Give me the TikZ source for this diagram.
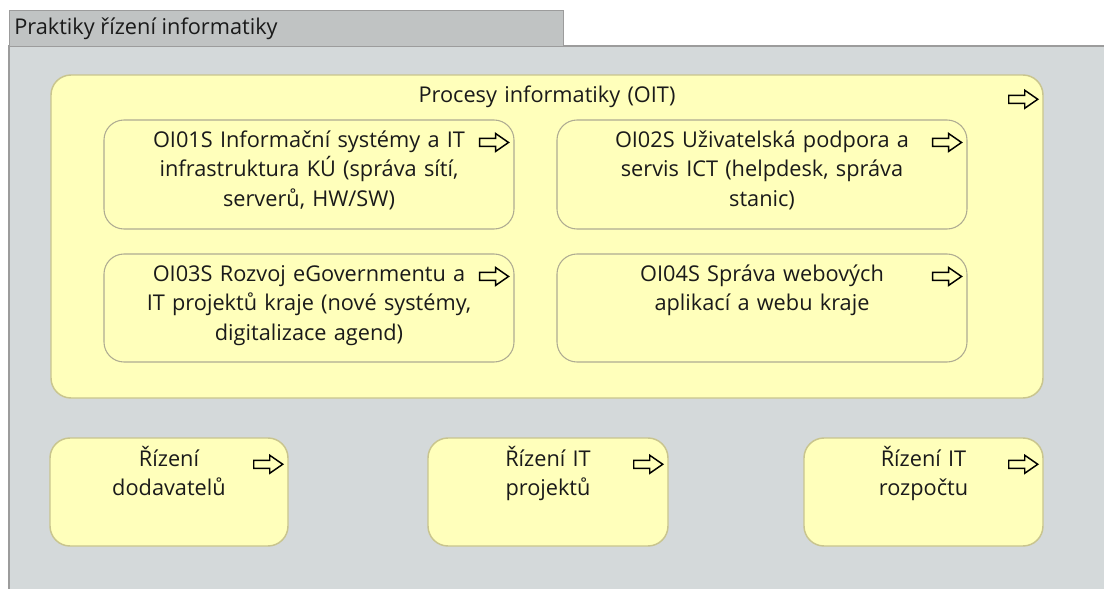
\documentclass[tikz,border=0pt]{standalone}
\usepackage{fontspec}
\setmainfont{Open Sans}
\definecolor{bodygray}{HTML}{D4D9DA}
\definecolor{tabgray}{HTML}{C0C3C3}
\definecolor{framegray}{HTML}{9C9C9C}
\definecolor{bizyellow}{HTML}{FFFFBB}
\definecolor{mainborder}{HTML}{C9C58E}
\definecolor{boxborder}{HTML}{AFAC92}
\definecolor{ink}{HTML}{1A1A1A}
\tikzset{
  grouparea/.style={draw=framegray, fill=bodygray, line width=0.8pt},
  tabbox/.style={draw=framegray, fill=tabgray, line width=0.8pt, inner sep=0pt, anchor=north west},
  tablbl/.style={font=\fontsize{16.3}{20}\selectfont, text=ink, inner sep=0pt, anchor=base west},
  procmain/.style={draw=mainborder, fill=bizyellow, rounded corners=15pt, line width=1.1pt, inner sep=0pt},
  procbox/.style={draw=boxborder, fill=bizyellow, rounded corners=15pt, line width=0.8pt, inner sep=0pt},
  proclbl/.style={align=center, text width=300pt, font=\fontsize{16.3}{22}\selectfont, text=ink, inner sep=0pt, anchor=base},
  procarrow/.pic={\draw[line width=1.1pt, fill=bizyellow, line join=miter] (0,0) -- (-13,-9) -- (-13,-4) -- (-29,-4) -- (-29,4) -- (-13,4) -- (-13,9) -- cycle;}
}
\begin{document}
\begin{tikzpicture}[x=0.75pt,y=-0.75pt]
\useasboundingbox (0,0) rectangle (1104,589);
\clip (0,0) rectangle (1104,589);
\fill[white] (0,0) rectangle (1104,589);
% group frame
\draw[grouparea] (9,46) rectangle (1130,620);
\node[tabbox, minimum width=415.5pt, minimum height=27pt] (tab) at (9,10) {};
\node[tablbl] (tabt) at (14,35) {Praktiky řízení informatiky};
% main process
\node[procmain, minimum width=744pt, minimum height=242.25pt] (main) at (547,236.5) {};
\node[proclbl] (maint) at ([yshift=-28*0.75pt]main.north) {Procesy informatiky (OIT)};
\path (main.north east) ++(-6,25) pic {procarrow};
% sub processes
\node[procbox, minimum width=307.5pt, minimum height=81.75pt] (oi01) at (309,174.5) {};
\node[procbox, minimum width=307.5pt, minimum height=81.75pt] (oi02) at (762,174.5) {};
\node[procbox, minimum width=307.5pt, minimum height=81pt] (oi03) at (309,308) {};
\node[procbox, minimum width=307.5pt, minimum height=81pt] (oi04) at (762,308) {};
\node[proclbl] (oi01t) at ([yshift=-28*0.75pt]oi01.north) {OI01S Informační systémy a IT\\infrastruktura KÚ (správa sítí,\\serverů, HW/SW)};
\node[proclbl] (oi02t) at ([yshift=-28*0.75pt]oi02.north) {OI02S Uživatelská podpora a\\servis ICT (helpdesk, správa\\stanic)};
\node[proclbl] (oi03t) at ([yshift=-28*0.75pt]oi03.north) {OI03S Rozvoj eGovernmentu a\\IT projektů kraje (nové systémy,\\digitalizace agend)};
\node[proclbl] (oi04t) at ([yshift=-28*0.75pt]oi04.north) {OI04S Správa webových\\aplikací a webu kraje};
\path (oi01.north east) ++(-6,23) pic {procarrow};
\path (oi02.north east) ++(-6,23) pic {procarrow};
\path (oi03.north east) ++(-6,23) pic {procarrow};
\path (oi04.north east) ++(-6,23) pic {procarrow};
% bottom processes
\node[procmain, minimum width=178.5pt, minimum height=81pt] (dod) at (169,492) {};
\node[procmain, minimum width=180pt, minimum height=81pt] (proj) at (548,492) {};
\node[procmain, minimum width=179.25pt, minimum height=81pt] (rozp) at (923.5,492) {};
\node[proclbl] (dodt) at ([yshift=-29*0.75pt]dod.north) {Řízení\\dodavatelů};
\node[proclbl] (projt) at ([yshift=-29*0.75pt]proj.north) {Řízení IT\\projektů};
\node[proclbl] (rozpt) at ([yshift=-29*0.75pt]rozp.north) {Řízení IT\\rozpočtu};
\path (dod.north east) ++(-6,27) pic {procarrow};
\path (proj.north east) ++(-6,27) pic {procarrow};
\path (rozp.north east) ++(-6,27) pic {procarrow};
\end{tikzpicture}
\end{document}
